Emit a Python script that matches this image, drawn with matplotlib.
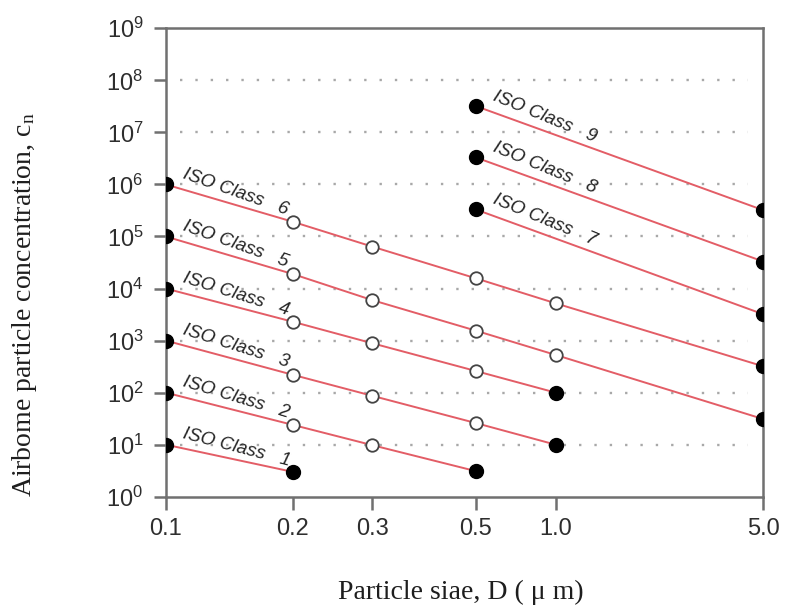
import numpy as np
import matplotlib
matplotlib.use("Agg")
import matplotlib.pyplot as plt

# ---------------- data ----------------
sizes = [0.1, 0.2, 0.3, 0.5, 1.0, 5.0]
size_labels = ["0.1", "0.2", "0.3", "0.5", "1.0", "5.0"]
y_ticks = [1e0, 1e1, 1e2, 1e3, 1e4, 1e5, 1e6, 1e7, 1e8, 1e9]
grid_levels = [1e1, 1e2, 1e3, 1e4, 1e5, 1e6, 1e7, 1e8]

class_names = ["1", "2", "3", "4", "5", "6", "7", "8", "9"]
class1_D = [0.1, 0.2]
class1_c = [10, 3.0]
class2_D = [0.1, 0.2, 0.3, 0.5]
class2_c = [100, 24, 9.8, 3.1]
class3_D = [0.1, 0.2, 0.3, 0.5, 1.0]
class3_c = [1000, 220, 87, 26, 10]
class4_D = [0.1, 0.2, 0.3, 0.5, 1.0]
class4_c = [1e4, 2.3e3, 890, 260, 100]
class5_D = [0.1, 0.2, 0.3, 0.5, 1.0, 5.0]
class5_c = [1e5, 1.9e4, 6.0e3, 1.55e3, 530, 31]
class6_D = [0.1, 0.2, 0.3, 0.5, 1.0, 5.0]
class6_c = [1e6, 1.92e5, 6.4e4, 1.57e4, 5.2e3, 320]
class7_D = [0.5, 5.0]
class7_c = [3.3e5, 3.2e3]
class8_D = [0.5, 5.0]
class8_c = [3.3e6, 3.3e4]
class9_D = [0.5, 5.0]
class9_c = [3.2e7, 3.2e5]

classes_D = [class1_D, class2_D, class3_D, class4_D, class5_D,
             class6_D, class7_D, class8_D, class9_D]
classes_c = [class1_c, class2_c, class3_c, class4_c, class5_c,
             class6_c, class7_c, class8_c, class9_c]

# ---------------- x scale (piecewise log axis as drawn) ----------------
tick_pos = np.array([0.0, 127.0, 206.3, 310.0, 389.7, 597.3])
L = np.log10(np.array(sizes))


def fwd(x):
    x = np.asarray(x, dtype=float)
    lx = np.log10(np.clip(x, 1e-12, None))
    y = np.interp(lx, L, tick_pos)
    y = np.where(lx < L[0], tick_pos[0] + (lx - L[0]) * (tick_pos[1] - tick_pos[0]) / (L[1] - L[0]), y)
    y = np.where(lx > L[-1], tick_pos[-1] + (lx - L[-1]) * (tick_pos[-1] - tick_pos[-2]) / (L[-1] - L[-2]), y)
    return y


def inv(y):
    y = np.asarray(y, dtype=float)
    lx = np.interp(y, tick_pos, L)
    lx = np.where(y < tick_pos[0], L[0] + (y - tick_pos[0]) * (L[1] - L[0]) / (tick_pos[1] - tick_pos[0]), lx)
    lx = np.where(y > tick_pos[-1], L[-1] + (y - tick_pos[-1]) * (L[-1] - L[-2]) / (tick_pos[-1] - tick_pos[-2]), lx)
    return 10 ** lx


# ---------------- figure ----------------
plt.rcParams["font.family"] = ["Liberation Sans", "DejaVu Sans"]
plt.rcParams["mathtext.default"] = "regular"

W, H = 786, 615
fig = plt.figure(figsize=(W / 100, H / 100), dpi=100)
ax = fig.add_axes([165.7 / W, 1 - 496.7 / H, (763.3 - 165.7) / W, (496.7 - 28.3) / H])

ax.set_xscale("function", functions=(fwd, inv))
ax.set_yscale("log")
ax.set_xlim(sizes[0], sizes[-1])
ax.set_ylim(y_ticks[0], y_ticks[-1])

ax.set_xticks(sizes)
ax.set_xticklabels(size_labels)
ax.xaxis.set_minor_locator(matplotlib.ticker.NullLocator())
ax.set_yticks(y_ticks)
ax.yaxis.set_minor_locator(matplotlib.ticker.NullLocator())

spine_col = "#707070"
for s in ax.spines.values():
    s.set_color(spine_col)
    s.set_linewidth(1.8)
ax.tick_params(axis="both", direction="out", length=9, width=1.8, color=spine_col,
               labelcolor="#2e2e2e", labelsize=17)
ax.tick_params(axis="y", pad=7)
ax.tick_params(axis="x", pad=6)

# dotted grid lines, inset from the frame
for g in grid_levels:
    ax.plot([0.024, 0.974], [g, g], transform=ax.get_yaxis_transform(),
            color="#a8a8a8", lw=1.7, ls=(0, (1, 5.5)), zorder=1)

line_col = "#e35d66"
for name, D, c in zip(class_names, classes_D, classes_c):
    ax.plot(D, c, color=line_col, lw=1.4, zorder=2)
    # open circles for intermediate points
    if len(D) > 2:
        ax.plot(D[1:-1], c[1:-1], ls="none", marker="o", ms=9, mfc="white",
                mec="#444444", mew=1.3, zorder=3)
    # filled circles at both ends
    ax.plot([D[0], D[-1]], [c[0], c[-1]], ls="none", marker="o", ms=10,
            mfc="black", mec="black", zorder=4)
    p0, p1 = ax.transData.transform([(D[0], c[0]), (D[-1], c[-1])])
    ang = np.degrees(np.arctan2(p1[1] - p0[1], p1[0] - p0[0]))
    ax.annotate("ISO Class   " + name, xy=(D[0], c[0]), xytext=(11.5, 4.5),
                textcoords="offset points", ha="left", va="baseline",
                rotation=ang - 2.5, rotation_mode="anchor", fontsize=13.5,
                style="italic", color="#262626", zorder=5)

fig.text(25 / W, 1 - 305 / H, "Airbome particle concentration, $\\mathregular{c_n}$",
         rotation=90, ha="center", va="center", fontsize=20,
         family=["Liberation Serif", "DejaVu Serif"], color="#1e1e1e")
fig.text(461 / W, 1 - 592 / H, "Particle siae, D ( μ m)", ha="center", va="center",
         fontsize=20, family=["Liberation Serif", "DejaVu Serif"], color="#1e1e1e")

fig.savefig("out.png", dpi=100)
